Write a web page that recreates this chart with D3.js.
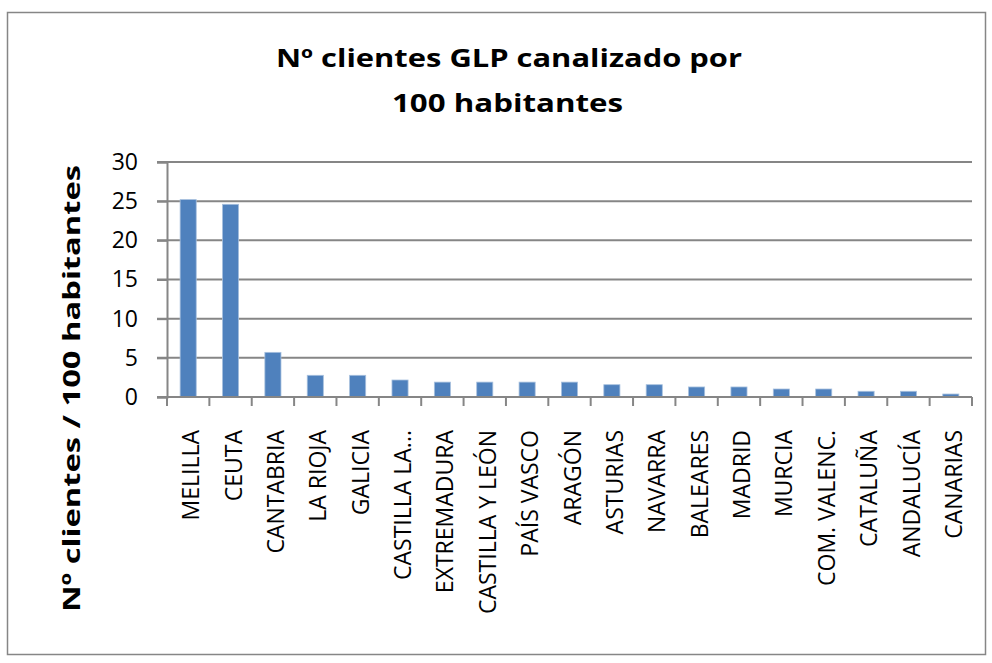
<!DOCTYPE html>
<html>
<head>
<meta charset="utf-8">
<script src="https://cdn.jsdelivr.net/npm/d3@7"></script>
<style>
  body { margin: 0; background: #fff; }
  text { font-family: "Open Sans", "Noto Sans", sans-serif; fill: #000; }
</style>
</head>
<body>
<div id="chart"></div>
<script>
// regiones y valores (clientes por 100 habitantes)
const regiones = ["MELILLA", "CEUTA", "CANTABRIA", "LA RIOJA", "GALICIA", "CASTILLA LA...",
  "EXTREMADURA", "CASTILLA Y LEÓN", "PAÍS VASCO", "ARAGÓN", "ASTURIAS", "NAVARRA",
  "BALEARES", "MADRID", "MURCIA", "COM. VALENC.", "CATALUÑA", "ANDALUCÍA", "CANARIAS"];
const clientes = [25.2, 24.6, 5.7, 2.77, 2.77, 2.17, 1.9, 1.9, 1.9, 1.9, 1.57, 1.57,
  1.28, 1.28, 1.02, 1.02, 0.73, 0.73, 0.38];
const yTicks = [0, 5, 10, 15, 20, 25, 30];

const width = 992, height = 663;
const margin = { top: 162, right: 20, bottom: 266, left: 167 };

const svg = d3.select("#chart").append("svg")
  .attr("width", width)
  .attr("height", height);

// borde del gráfico
svg.append("rect")
  .attr("x", 7.5).attr("y", 12.5)
  .attr("width", 978).attr("height", 642)
  .attr("fill", "none")
  .attr("stroke", "#868686")
  .attr("stroke-width", 1.5);

const x = d3.scaleBand()
  .domain(regiones)
  .range([margin.left, width - margin.right])
  .paddingInner(0.62)
  .paddingOuter(0.31);

const y = d3.scaleLinear()
  .domain([0, 30])
  .range([height - margin.bottom, margin.top]);

// rejilla
svg.append("g")
  .selectAll("line")
  .data(yTicks.slice(1))
  .join("line")
  .attr("x1", margin.left - 10)
  .attr("x2", width - margin.right)
  .attr("y1", d => y(d))
  .attr("y2", d => y(d))
  .attr("stroke", "#868686")
  .attr("stroke-width", 2);

// barras
svg.append("g")
  .selectAll("rect")
  .data(clientes)
  .join("rect")
  .attr("x", (d, i) => x(regiones[i]))
  .attr("y", d => y(d))
  .attr("width", x.bandwidth())
  .attr("height", d => y(0) - y(d))
  .attr("fill", "#4F81BD")
  .attr("stroke", "#a7c0de")
  .attr("stroke-width", 0.8);

// eje Y
const yAxis = svg.append("g")
  .attr("transform", `translate(${margin.left},0)`)
  .call(d3.axisLeft(y).tickValues(yTicks).tickSize(10).tickPadding(19));
yAxis.select(".domain").attr("stroke", "#868686").attr("stroke-width", 2);
yAxis.selectAll(".tick line").attr("stroke", "#868686").attr("stroke-width", 2);
yAxis.selectAll(".tick text").style("font-size", "23px").style("font-family", "Open Sans");

// eje X
const step = x.step();
const xAxis = svg.append("g")
  .attr("transform", `translate(0,${y(0)})`);
xAxis.append("line")
  .attr("x1", margin.left - 10).attr("x2", width - margin.right)
  .attr("stroke", "#868686").attr("stroke-width", 2);
xAxis.selectAll(".xt")
  .data(d3.range(regiones.length + 1))
  .join("line")
  .attr("class", "xt")
  .attr("x1", i => margin.left + i * step)
  .attr("x2", i => margin.left + i * step)
  .attr("y1", 0).attr("y2", 9)
  .attr("stroke", "#868686").attr("stroke-width", 2);
xAxis.selectAll(".xl")
  .data(regiones)
  .join("text")
  .attr("class", "xl")
  .attr("transform", d => `translate(${x(d) + x.bandwidth() / 2 + 3},33) rotate(-90)`)
  .attr("dy", "0.35em")
  .attr("text-anchor", "end")
  .style("font-size", "23px")
  .text(d => d);

// título (texto estirado como en el original)
svg.append("text")
  .attr("x", 276).attr("y", 67)
  .attr("textLength", 466)
  .attr("lengthAdjust", "spacingAndGlyphs")
  .style("font-size", "25px").style("font-weight", "bold")
  .text("Nº clientes GLP canalizado por");
svg.append("text")
  .attr("x", 392).attr("y", 112)
  .attr("textLength", 231)
  .attr("lengthAdjust", "spacingAndGlyphs")
  .style("font-size", "25px").style("font-weight", "bold")
  .text("100 habitantes");

// título eje Y
svg.append("text")
  .attr("transform", `translate(80,612) rotate(-90)`)
  .attr("textLength", 447)
  .attr("lengthAdjust", "spacingAndGlyphs")
  .style("font-size", "24px").style("font-weight", "bold")
  .text("Nº clientes / 100 habitantes");
</script>
</body>
</html>
